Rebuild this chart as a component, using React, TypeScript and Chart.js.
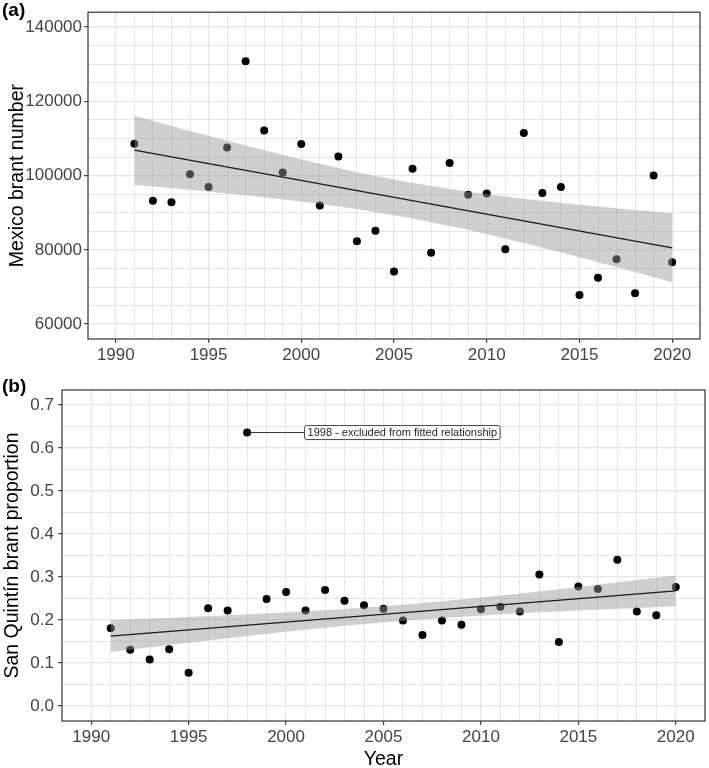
import React, { useEffect, useRef } from "react";
import { Chart, registerables } from "chart.js";

Chart.register(...registerables);

const FONT = "'Liberation Sans', Arial, Helvetica, sans-serif";

// ---------------- Data ----------------
const years = [
  1991, 1992, 1993, 1994, 1995, 1996, 1997, 1998, 1999, 2000,
  2001, 2002, 2003, 2004, 2005, 2006, 2007, 2008, 2009, 2010,
  2011, 2012, 2013, 2014, 2015, 2016, 2017, 2018, 2019, 2020,
];

const mexicoBrantNumber = [
  108600, 93250, 92800, 100350, 96900, 107600, 130800, 112150, 100840, 108500,
  91950, 105160, 82300, 85140, 74150, 101850, 79250, 103400, 94840, 95200,
  80200, 111500, 95300, 96900, 67850, 72500, 77500, 68300, 100050, 76700,
];

const sanQuintinProportion = [
  0.181, 0.131, 0.108, 0.132, 0.077, 0.227, 0.222, 0.636, 0.249, 0.265,
  0.222, 0.270, 0.245, 0.234, 0.226, 0.199, 0.165, 0.199, 0.189, 0.225,
  0.231, 0.220, 0.306, 0.149, 0.278, 0.272, 0.340, 0.220, 0.211, 0.277,
];

// fitted lines and confidence ribbons
const fitYears = [1991, 2020];
const fitA = [106850, 80550];
const fitB = [0.1624, 0.2677];

const bandYears = [1991, 1994, 1997, 2000, 2003, 2006, 2009, 2012, 2015, 2018, 2020];
const bandUpperA = [116130, 112040, 108080, 104330, 100920, 98010, 95660, 93760, 92160, 90730, 89840];
const bandLowerA = [97560, 96210, 94730, 93050, 91010, 88480, 85390, 81850, 78020, 74010, 71270];
const bandUpperB = [0.1994, 0.2049, 0.2108, 0.2176, 0.2257, 0.2357, 0.2478, 0.2618, 0.2769, 0.2928, 0.3037];
const bandLowerB = [0.1254, 0.1417, 0.1576, 0.1726, 0.1863, 0.1981, 0.2078, 0.2156, 0.2221, 0.228, 0.2317];

// tick labels
const xTickLabels = [1990, 1995, 2000, 2005, 2010, 2015, 2020];
const yTickLabelsA = [60000, 80000, 100000, 120000, 140000];
const yTickLabelsB = [0.0, 0.1, 0.2, 0.3, 0.4, 0.5, 0.6, 0.7];

// annotation
const annotationYear = 1998;
const annotationValue = 0.636;
const annotationText = "1998 - excluded from fitted relationship";
const annotationLabelX = 2000.95;

// ---------------- helpers ----------------
const range = (a: number, b: number, step: number) => {
  const out: number[] = [];
  const n = Math.round((b - a) / step);
  for (let i = 0; i <= n; i++) out.push(Math.round((a + i * step) * 1e6) / 1e6);
  return out;
};

const gridYears = range(1990, 2020, 1);
const gridA = range(60000, 140000, 5000);
const gridB = range(0, 0.7, 0.05);

const near = (v: number, arr: number[]) => arr.some((a) => Math.abs(a - v) < 1e-6);

const toPts = (xs: number[], ys: number[]) => xs.map((x, i) => ({ x, y: ys[i] }));

const panelBorder = {
  id: "panelBorder",
  afterDraw(chart: any) {
    const { ctx, chartArea } = chart;
    const { left, top, right, bottom } = chartArea;
    ctx.save();
    ctx.strokeStyle = "#333333";
    ctx.lineWidth = 1.2;
    ctx.strokeRect(left, top, right - left, bottom - top);
    ctx.restore();
  },
};

const annotationPlugin = {
  id: "excludedLabel",
  afterDatasetsDraw(chart: any) {
    const { ctx, scales } = chart;
    const px = scales.x.getPixelForValue(annotationYear);
    const py = scales.y.getPixelForValue(annotationValue);
    const bx = scales.x.getPixelForValue(annotationLabelX);
    ctx.save();
    ctx.font = `11px ${FONT}`;
    const tw = ctx.measureText(annotationText).width;
    const padX = 3;
    const h = 14;
    const w = tw + padX * 2;
    const by = py - h / 2;
    ctx.strokeStyle = "#1a1a1a";
    ctx.lineWidth = 0.9;
    ctx.beginPath();
    ctx.moveTo(px, py);
    ctx.lineTo(bx, py);
    ctx.stroke();
    const r = 2;
    ctx.beginPath();
    ctx.moveTo(bx + r, by);
    ctx.lineTo(bx + w - r, by);
    ctx.arcTo(bx + w, by, bx + w, by + r, r);
    ctx.lineTo(bx + w, by + h - r);
    ctx.arcTo(bx + w, by + h, bx + w - r, by + h, r);
    ctx.lineTo(bx + r, by + h);
    ctx.arcTo(bx, by + h, bx, by + h - r, r);
    ctx.lineTo(bx, by + r);
    ctx.arcTo(bx, by, bx + r, by, r);
    ctx.closePath();
    ctx.fillStyle = "#ffffff";
    ctx.fill();
    ctx.strokeStyle = "#333333";
    ctx.lineWidth = 0.9;
    ctx.stroke();
    ctx.fillStyle = "#262626";
    ctx.textBaseline = "middle";
    ctx.textAlign = "left";
    ctx.fillText(annotationText, bx + padX, py + 0.5);
    ctx.restore();
  },
};

type PanelProps = {
  top: number;
  height: number;
  padding: { left: number; top: number; right: number; bottom: number };
  yWidth: number;
  xHeight: number;
  values: number[];
  fit: number[];
  bandUpper: number[];
  bandLower: number[];
  yMin: number;
  yMax: number;
  yGrid: number[];
  yLabels: number[];
  yFormat: (v: number) => string;
  yTitle: string;
  yTitlePad: number;
  yTickPad: number;
  xTitle?: string;
  xTickPad: number;
  annotate?: boolean;
};

function Panel(p: PanelProps) {
  const ref = useRef<HTMLCanvasElement>(null);
  useEffect(() => {
    if (!ref.current) return;
    const tickFont = { family: FONT, size: 17 };
    const titleFont = { family: FONT, size: 19.5 };
    const plugins: any[] = [panelBorder];
    if (p.annotate) plugins.unshift(annotationPlugin);
    const chart = new Chart(ref.current, {
      type: "scatter",
      data: {
        datasets: [
          {
            type: "line",
            data: toPts(fitYears, p.fit),
            borderColor: "#1a1a1a",
            borderWidth: 1.3,
            pointRadius: 0,
            fill: false,
          },
          {
            type: "line",
            data: toPts(bandYears, p.bandUpper),
            borderColor: "rgba(0,0,0,0)",
            borderWidth: 1,
            pointRadius: 0,
            fill: "+1",
            backgroundColor: "rgba(153,153,153,0.47)",
          },
          {
            type: "line",
            data: toPts(bandYears, p.bandLower),
            borderColor: "rgba(0,0,0,0)",
            borderWidth: 1,
            pointRadius: 0,
            fill: false,
          },
          {
            type: "scatter",
            data: toPts(years, p.values),
            pointRadius: 4,
            pointBackgroundColor: "#000000",
            pointBorderWidth: 0,
            borderWidth: 0,
          },
        ] as any,
      },
      options: {
        animation: false,
        responsive: false,
        events: [],
        layout: { padding: p.padding },
        plugins: { legend: { display: false }, tooltip: { enabled: false } },
        scales: {
          x: {
            type: "linear",
            min: 1988.5,
            max: 2021.5,
            afterBuildTicks: (s: any) => {
              s.ticks = gridYears.map((v) => ({ value: v }));
            },
            afterFit: (s: any) => {
              s.height = p.xHeight;
            },
            ticks: {
              autoSkip: false,
              maxRotation: 0,
              minRotation: 0,
              padding: p.xTickPad,
              color: "#444444",
              font: tickFont,
              callback: (v: any) => (near(Number(v), xTickLabels) ? String(v) : ""),
            },
            grid: {
              color: "#e6e6e6",
              lineWidth: (c: any) => (c.tick && near(c.tick.value, xTickLabels) ? 1.3 : 1),
              drawTicks: true,
              tickLength: 4,
              tickWidth: 1.1,
              tickColor: (c: any) =>
                c.tick && near(c.tick.value, xTickLabels) ? "#333333" : "rgba(0,0,0,0)",
            },
            border: { display: false },
            title: p.xTitle
              ? { display: true, text: p.xTitle, color: "#000000", font: titleFont, padding: { top: 0, bottom: -3 } }
              : { display: false },
          },
          y: {
            type: "linear",
            min: p.yMin,
            max: p.yMax,
            afterBuildTicks: (s: any) => {
              s.ticks = p.yGrid.map((v) => ({ value: v }));
            },
            afterFit: (s: any) => {
              s.width = p.yWidth;
            },
            ticks: {
              autoSkip: false,
              padding: p.yTickPad,
              color: "#444444",
              font: tickFont,
              callback: (v: any) => (near(Number(v), p.yLabels) ? p.yFormat(Number(v)) : ""),
            },
            grid: {
              color: "#e6e6e6",
              lineWidth: (c: any) => (c.tick && near(c.tick.value, p.yLabels) ? 1.3 : 1),
              drawTicks: true,
              tickLength: 4,
              tickWidth: 1.1,
              tickColor: (c: any) =>
                c.tick && near(c.tick.value, p.yLabels) ? "#333333" : "rgba(0,0,0,0)",
            },
            border: { display: false },
            title: {
              display: true,
              text: p.yTitle,
              color: "#000000",
              font: titleFont,
              padding: { top: p.yTitlePad, bottom: 0 },
            },
          },
        },
      } as any,
      plugins,
    });
    return () => chart.destroy();
  }, []);
  return (
    <canvas
      ref={ref}
      width={709}
      height={p.height}
      style={{ position: "absolute", left: 0, top: p.top, width: 709, height: p.height }}
    />
  );
}

const labelStyle = (top: number): React.CSSProperties => ({
  position: "absolute",
  left: 2,
  top,
  fontFamily: FONT,
  fontWeight: "bold",
  fontSize: 19,
  lineHeight: "19px",
  color: "#000",
});

export default function App() {
  return (
    <div
      style={{
        position: "absolute",
        left: 0,
        top: 0,
        width: 709,
        height: 768,
        background: "#ffffff",
        overflow: "hidden",
      }}
    >
      <Panel
        top={0}
        height={370}
        padding={{ left: 0, top: 8, right: 9, bottom: 0 }}
        yWidth={88}
        xHeight={31}
        values={mexicoBrantNumber}
        fit={fitA}
        bandUpper={bandUpperA}
        bandLower={bandLowerA}
        yMin={56000}
        yMax={144000}
        yGrid={gridA}
        yLabels={yTickLabelsA}
        yFormat={(v) => String(v)}
        yTitle="Mexico brant number"
        yTitlePad={6}
        yTickPad={2}
        xTickPad={2}
      />
      <Panel
        top={370}
        height={398}
        padding={{ left: 0, top: 20, right: 3, bottom: 0 }}
        yWidth={62}
        xHeight={47}
        values={sanQuintinProportion}
        fit={fitB}
        bandUpper={bandUpperB}
        bandLower={bandLowerB}
        yMin={-0.035}
        yMax={0.735}
        yGrid={gridB}
        yLabels={yTickLabelsB}
        yFormat={(v) => v.toFixed(1)}
        yTitle="San Quintín brant proportion"
        yTitlePad={1}
        yTickPad={4}
        xTitle="Year"
        xTickPad={2}
        annotate
      />
      <div style={labelStyle(0)}>(a)</div>
      <div style={labelStyle(376)}>(b)</div>
    </div>
  );
}
